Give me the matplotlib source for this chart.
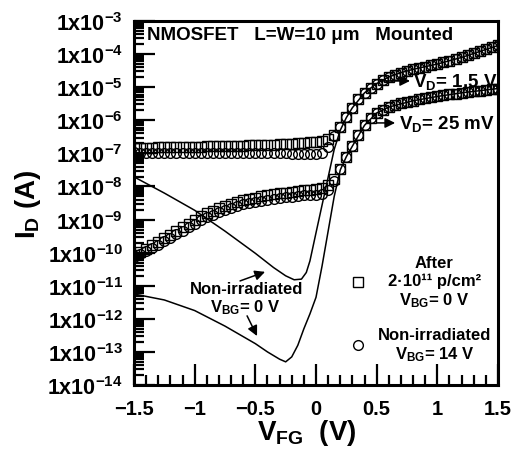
import numpy as np
import matplotlib
matplotlib.use("Agg")
import matplotlib.pyplot as plt
from matplotlib.ticker import MultipleLocator, LogLocator, NullFormatter

plt.rcParams["font.family"] = "Liberation Sans"
plt.rcParams["font.weight"] = "bold"
plt.rcParams["axes.labelweight"] = "bold"
plt.rcParams["mathtext.fontset"] = "custom"
plt.rcParams["mathtext.rm"] = "Liberation Sans:bold"
plt.rcParams["mathtext.it"] = "Liberation Sans:bold"
plt.rcParams["mathtext.bf"] = "Liberation Sans:bold"
plt.rcParams["mathtext.sf"] = "Liberation Sans:bold"

# front-gate sweep, 50 mV step
vfg = np.linspace(-1.5, 1.5, 61)

# log10(I_D) after 2e11 p/cm2, V_BG = 0 V (squares)
log_after_15 = [
    -6.84, -6.84, -6.83, -6.83, -6.82, -6.82, -6.82, -6.81, -6.81, -6.80,
    -6.80, -6.80, -6.79, -6.79, -6.78, -6.78, -6.78, -6.77, -6.77, -6.76,
    -6.76, -6.75, -6.74, -6.74, -6.73, -6.72, -6.71, -6.70, -6.69, -6.67,
    -6.65, -6.62, -6.56, -6.45, -6.20, -5.90, -5.62, -5.37, -5.17, -5.02,
    -4.89, -4.78, -4.69, -4.62, -4.56, -4.51, -4.46, -4.42, -4.38, -4.34,
    -4.30, -4.25, -4.20, -4.15, -4.10, -4.04, -3.98, -3.92, -3.86, -3.80,
    -3.74,
]
log_after_25 = [
    -10.08, -9.98, -9.88, -9.78, -9.68, -9.57, -9.46, -9.35, -9.23, -9.12,
    -9.00, -8.90, -8.81, -8.73, -8.66, -8.59, -8.53, -8.47, -8.42, -8.38,
    -8.34, -8.30, -8.27, -8.24, -8.21, -8.19, -8.16, -8.14, -8.12, -8.10,
    -8.08, -8.04, -7.96, -7.78, -7.46, -7.10, -6.78, -6.45, -6.15, -5.93,
    -5.78, -5.68, -5.60, -5.54, -5.49, -5.45, -5.41, -5.37, -5.34, -5.31,
    -5.28, -5.25, -5.22, -5.20, -5.17, -5.15, -5.12, -5.10, -5.08, -5.06,
    -5.04,
]

# log10(I_D) non-irradiated, V_BG = 14 V (circles)
log_bg14_15 = [
    -6.97, -6.98, -6.98, -6.98, -6.99, -6.99, -6.99, -6.99, -6.99, -6.99,
    -6.99, -6.99, -6.99, -6.99, -6.99, -6.99, -6.99, -6.99, -6.99, -6.99,
    -6.99, -6.99, -6.99, -7.00, -7.00, -7.00, -7.01, -7.01, -7.02, -7.02,
    -7.02, -6.98, -6.80, -6.48, -6.20, -5.90, -5.62, -5.37, -5.17, -5.02,
    -4.89, -4.78, -4.69, -4.62, -4.56, -4.51, -4.46, -4.42, -4.38, -4.34,
    -4.30, -4.25, -4.20, -4.15, -4.10, -4.04, -3.98, -3.92, -3.86, -3.80,
    -3.74,
]
log_bg14_25 = [
    -10.14, -10.05, -9.95, -9.86, -9.76, -9.66, -9.56, -9.45, -9.34, -9.23,
    -9.12, -9.02, -8.93, -8.85, -8.78, -8.71, -8.65, -8.59, -8.54, -8.50,
    -8.46, -8.43, -8.40, -8.37, -8.35, -8.33, -8.31, -8.29, -8.27, -8.26,
    -8.25, -8.22, -8.12, -7.84, -7.46, -7.10, -6.78, -6.45, -6.15, -5.93,
    -5.78, -5.68, -5.60, -5.54, -5.49, -5.45, -5.41, -5.37, -5.34, -5.31,
    -5.28, -5.25, -5.22, -5.20, -5.17, -5.15, -5.12, -5.10, -5.08, -5.06,
    -5.04,
]

# non-irradiated, V_BG = 0 V (solid lines)
vfg_bg0_15 = [-1.5, -1.25, -1.0, -0.75, -0.5, -0.35, -0.25, -0.18, -0.12, -0.08,
              -0.05, 0.0, 0.05, 0.1, 0.15, 0.2, 0.25, 0.3, 0.4, 0.5,
              0.6, 0.7, 0.8, 1.0, 1.2, 1.5]
log_bg0_15 = [-7.71, -8.20, -8.72, -9.35, -10.02, -10.45, -10.70, -10.82, -10.80, -10.60,
              -10.25, -9.40, -8.56, -7.72, -6.88, -6.30, -5.92, -5.62, -5.17, -4.89,
              -4.69, -4.56, -4.46, -4.30, -4.10, -3.74]
vfg_bg0_25 = [-1.5, -1.25, -1.0, -0.75, -0.5, -0.4, -0.3, -0.25, -0.2, -0.15,
              -0.1, -0.05, 0.0, 0.05, 0.1, 0.15, 0.2, 0.25, 0.3, 0.4,
              0.5, 0.6, 0.8, 1.0, 1.2, 1.5]
log_bg0_25 = [-11.25, -11.43, -11.75, -12.22, -12.75, -13.00, -13.22, -13.30, -13.15, -12.80,
              -12.30, -11.85, -11.35, -10.40, -9.35, -8.30, -7.50, -7.10, -6.78, -6.15,
              -5.78, -5.60, -5.41, -5.28, -5.17, -5.04]

x_ticks = [-1.5, -1.0, -0.5, 0.0, 0.5, 1.0, 1.5]
x_tick_labels = ["\u22121.5", "\u22121", "\u22120.5", "0", "0.5", "1", "1.5"]
y_exponents = list(range(-14, -2))

fig = plt.figure(figsize=(5.14, 4.52), dpi=100)
ax = fig.add_axes([0.2607, 0.146, 0.7082, 0.8053])
ax.set_yscale("log")

line_kw = dict(color="black", lw=1.1)
ax.plot(vfg_bg0_15, 10.0 ** np.array(log_bg0_15), **line_kw)
ax.plot(vfg_bg0_25, 10.0 ** np.array(log_bg0_25), **line_kw)

circ_kw = dict(ls="none", marker="o", ms=7.0, mfc="none", mec="black", mew=1.0)
sq_kw = dict(ls="none", marker="s", ms=6.6, mfc="none", mec="black", mew=1.0)
circ, = ax.plot(vfg, 10.0 ** np.array(log_bg14_15), **circ_kw)
ax.plot(vfg, 10.0 ** np.array(log_bg14_25), **circ_kw)
sq, = ax.plot(vfg, 10.0 ** np.array(log_after_15), **sq_kw)
ax.plot(vfg, 10.0 ** np.array(log_after_25), **sq_kw)

ax.set_xlim(-1.5, 1.5)
ax.set_ylim(1e-14, 1e-3)
ax.set_xticks(x_ticks)
ax.set_xticklabels(x_tick_labels)
ax.xaxis.set_minor_locator(MultipleLocator(0.1))
ax.set_yticks([10.0 ** e for e in y_exponents])
ax.set_yticklabels(["1x10$^{%d}$" % e for e in y_exponents])
ax.yaxis.set_minor_locator(LogLocator(base=10, subs=np.arange(2, 10), numticks=100))
ax.yaxis.set_minor_formatter(NullFormatter())

ax.tick_params(which="both", direction="in", top=False, right=False, width=1.6)
ax.tick_params(which="major", length=15)
ax.tick_params(which="minor", length=7)
ax.tick_params(axis="x", labelsize=14.5, pad=10)
ax.tick_params(axis="y", labelsize=15.5, pad=8)
for s in ax.spines.values():
    s.set_linewidth(2.2)

ax.set_ylabel("I$_\\mathregular{D}$ (A)", fontsize=20, fontweight="bold", va="center")
ax.yaxis.set_label_coords(-0.29, 0.5)
ax.set_xlabel("V$_\\mathregular{FG}$  (V)", fontsize=20, fontweight="bold", va="top")
ax.xaxis.set_label_coords(0.475, -0.088)

ax.text(0.036, 0.962, "NMOSFET   L=W=10 \u03bcm   Mounted", transform=ax.transAxes,
        fontsize=13.5, va="center", ha="left")

arrow_kw = dict(arrowstyle="-|>", color="black", lw=1.1, mutation_scale=15,
                shrinkA=0, shrinkB=0)
ax.annotate("", xy=(0.775, 10 ** -4.81), xytext=(0.553, 10 ** -4.81), arrowprops=arrow_kw)
ax.text(0.80, 10 ** -4.81, "V$_\\mathregular{D}$= 1.5 V", fontsize=13.5, va="center", ha="left")
ax.annotate("", xy=(0.652, 10 ** -6.08), xytext=(0.503, 10 ** -6.08), arrowprops=arrow_kw)
ax.text(0.685, 10 ** -6.08, "V$_\\mathregular{D}$= 25 mV", fontsize=13.5, va="center", ha="left")

ax.text(-0.573, 10 ** -11.07, "Non-irradiated", fontsize=12, ha="center", va="center")
ax.text(-0.585, 10 ** -11.64, "V$_\\mathregular{BG}$= 0 V", fontsize=12, ha="center", va="center")
ax.annotate("", xy=(-0.42, 10 ** -10.58), xytext=(-0.626, 10 ** -10.855), arrowprops=arrow_kw)
ax.annotate("", xy=(-0.486, 10 ** -12.52), xytext=(-0.568, 10 ** -11.91), arrowprops=arrow_kw)

# two single-entry legends so each text block sits centred at the same x
leg_kw = dict(frameon=False, fontsize=12, handlelength=1.0, borderpad=0,
              borderaxespad=0, loc="center left")
leg1 = ax.legend([sq], ["After\n2\u00b710\u00b9\u00b9 p/cm\u00b2\nV$_\\mathregular{BG}$= 0 V"],
                 bbox_to_anchor=(0.592, 0.283), handletextpad=1.3, **leg_kw)
for t in leg1.get_texts():
    t.set_multialignment("center")
ax.add_artist(leg1)
leg2 = ax.legend([circ], ["Non-irradiated\nV$_\\mathregular{BG}$= 14 V"],
                 bbox_to_anchor=(0.592, 0.110), handletextpad=0.7, **leg_kw)
for t in leg2.get_texts():
    t.set_multialignment("center")

fig.savefig("out.png", dpi=100, facecolor="white")
